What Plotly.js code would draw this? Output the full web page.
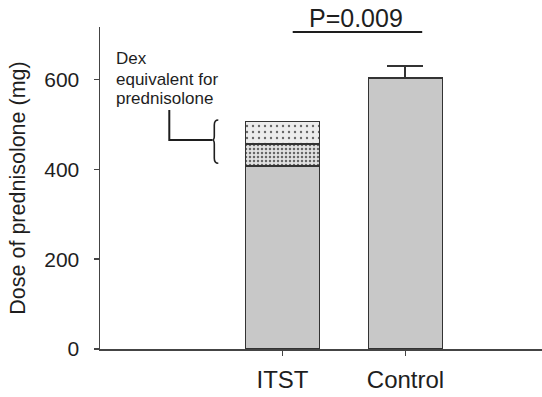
<!DOCTYPE html>
<html>
<head>
<meta charset="utf-8">
<script src="https://cdn.plot.ly/plotly-3.0.1.min.js"></script>
<style>html,body{margin:0;padding:0;background:#fff;}#chart{width:542px;height:397px;}</style>
</head>
<body>
<div id="chart"></div>
<script>
// Data
const categories = ['ITST', 'Control'];
const prednisoloneBase = [407, 603];      // solid grey part
const dexSegment1 = [50, null];           // dense-dot part (ITST only)
const dexSegment2 = [50, null];           // sparse-dot part (ITST only)
const controlErrorUp = [0, 27];           // upward SEM
const yTicks = [0, 200, 400, 600];
const pValueText = 'P=0.009';
const dexLabelLines = ['Dex', 'equivalent for', 'prednisolone'];

const outline = {color: '#333', width: 1.5};
const traces = [
  {
    type: 'bar', x: categories, y: prednisoloneBase, width: 0.6,
    marker: {color: '#c8c8c8', line: outline},
    error_y: {type: 'data', symmetric: false, array: controlErrorUp, arrayminus: [0, 0],
              color: '#333', thickness: 2, width: 18},
    hoverinfo: 'none'
  },
  {
    type: 'bar', x: categories, y: dexSegment1, width: 0.6,
    marker: {color: '#e2e2e2', line: outline,
             pattern: {shape: '.', size: 4, solidity: 0.3, fgcolor: '#666', bgcolor: '#e2e2e2', fillmode: 'replace'}},
    hoverinfo: 'none'
  },
  {
    type: 'bar', x: categories, y: dexSegment2, width: 0.6,
    marker: {color: '#ececec', line: outline,
             pattern: {shape: '.', size: 6, solidity: 0.12, fgcolor: '#666', bgcolor: '#ececec', fillmode: 'replace'}},
    hoverinfo: 'none'
  }
];

const fontFam = 'Liberation Sans, Arial, sans-serif';
const txt = '#1e1e1e';
const layout = {
  width: 542, height: 397, autosize: false,
  margin: {l: 100, r: 0, t: 26.7, b: 47.7, pad: 0, autoexpand: false},
  paper_bgcolor: '#fff', plot_bgcolor: '#fff',
  barmode: 'stack', showlegend: false,
  font: {family: fontFam, color: txt},
  xaxis: {
    type: 'category', categoryorder: 'array', categoryarray: categories,
    range: [-1.484, 2.11], showgrid: false, zeroline: false, automargin: false,
    showline: true, linecolor: '#444', linewidth: 1.5,
    ticks: 'outside', ticklen: 5, tickwidth: 1.5, tickcolor: '#444',
    tickfont: {size: 24, color: txt}, ticklabelstandoff: 4, fixedrange: true
  },
  yaxis: {
    range: [0, 717], tickvals: yTicks, ticktext: yTicks.map(String),
    showgrid: false, zeroline: false, automargin: false,
    showline: true, linecolor: '#444', linewidth: 1.5,
    ticks: 'outside', ticklen: 5, tickwidth: 1.5, tickcolor: '#444',
    tickfont: {size: 21, color: txt}, ticklabelstandoff: 10,
    title: {text: 'Dose of prednisolone (mg)', font: {size: 21.5, color: txt}, standoff: 12},
    fixedrange: true
  },
  shapes: [
    {type: 'line', xref: 'x', yref: 'y', x0: 0.083, x1: 1.136, y0: 706, y1: 706,
     line: {color: txt, width: 2}}
  ],
  annotations: [
    {text: pValueText, xref: 'x', yref: 'paper', x: 0.6, y: 1.0, yanchor: 'bottom', xanchor: 'center',
     showarrow: false, font: {size: 25, color: txt}, yshift: -7}
  ]
};

Plotly.newPlot('chart', traces, layout, {displayModeBar: false, staticPlot: true}).then(function(gd){
  const fl = gd._fullLayout;
  const px = function(x){ return (x - fl._size.l) / fl._size.w; };
  const py = function(y){ return 1 - (y - fl._size.t) / fl._size.h; };
  const cx = 212.3, top = 120, bot = 163.3, mid = 140;
  const path = 'M ' + px(cx+6) + ' ' + py(top) +
    ' Q ' + px(cx+2) + ' ' + py(top) + ' ' + px(cx+2) + ' ' + py(top+5) +
    ' L ' + px(cx+2) + ' ' + py(mid-4) +
    ' Q ' + px(cx+2) + ' ' + py(mid) + ' ' + px(cx) + ' ' + py(mid) +
    ' Q ' + px(cx+2) + ' ' + py(mid) + ' ' + px(cx+2) + ' ' + py(mid+4) +
    ' L ' + px(cx+2) + ' ' + py(bot-5) +
    ' Q ' + px(cx+2) + ' ' + py(bot) + ' ' + px(cx+6) + ' ' + py(bot);
  const shapes = gd.layout.shapes.slice();
  shapes.push({type: 'path', xref: 'paper', yref: 'paper',
    path: 'M ' + px(169.3) + ' ' + py(110) + ' L ' + px(169.3) + ' ' + py(mid) + ' L ' + px(cx) + ' ' + py(mid),
    line: {color: txt, width: 2}});
  shapes.push({type: 'path', xref: 'paper', yref: 'paper', path: path, line: {color: txt, width: 1.6}});
  const ann = gd.layout.annotations.slice();
  const lineY = [59, 79, 98.5];
  dexLabelLines.forEach(function(t, i){
    ann.push({text: t, xref: 'paper', yref: 'paper', x: px(113.5), y: py(lineY[i]),
      xanchor: 'left', yanchor: 'middle', showarrow: false, font: {size: 17, color: txt}});
  });
  Plotly.relayout(gd, {shapes: shapes, annotations: ann});
});
</script>
</body>
</html>
